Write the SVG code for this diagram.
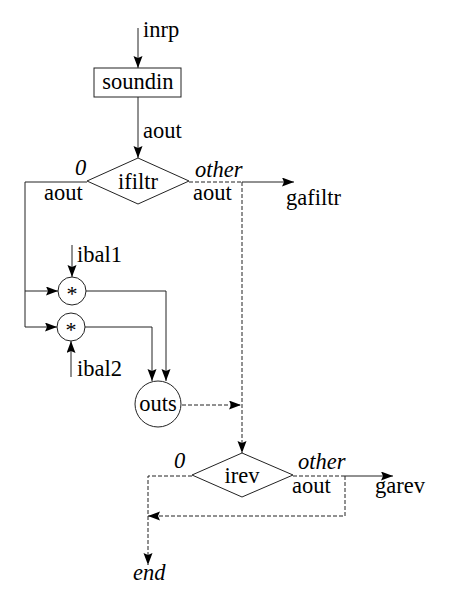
<svg xmlns="http://www.w3.org/2000/svg" width="450" height="607" viewBox="0 0 450 607">
<defs>
<marker id="ah" markerUnits="userSpaceOnUse" markerWidth="13" markerHeight="10" refX="12" refY="4.5" orient="auto">
<path d="M0,0 L12,4.5 L0,9 L2,4.5 z" fill="#000"/>
</marker>
</defs>
<style>
text{font-size:22.5px;fill:#000}
.it{font-style:italic}
.m{text-anchor:middle}
.ln{fill:none;stroke:#222;stroke-width:1}
.d{stroke-dasharray:4,2}
.a{marker-end:url(#ah)}
.sh{fill:#fff;stroke:#222;stroke-width:1}
</style>
<rect width="450" height="607" fill="#fff"/>
<g id="connectors">
<line class="ln a" x1="138" y1="28" x2="138" y2="68"/>
<line class="ln a" x1="138" y1="97" x2="138" y2="158"/>
<polyline class="ln a" points="87,182 25,182 25,327 57,327"/>
<polyline class="ln a" points="25,291 58,291"/>
<line class="ln d" x1="189" y1="182" x2="242" y2="182"/>
<line class="ln a" x1="242" y1="182" x2="294" y2="182"/>
<line class="ln d a" x1="242" y1="182" x2="242" y2="453"/>
<line class="ln a" x1="72" y1="245" x2="72" y2="277"/>
<line class="ln a" x1="71" y1="377" x2="71" y2="341"/>
<polyline class="ln a" points="86,291 166,291 166,381"/>
<polyline class="ln a" points="85,327 152,327 152,381"/>
<line class="ln d a" x1="182" y1="405" x2="241" y2="405"/>
<polyline class="ln d a" points="192,476 148,476 148,565"/>
<line class="ln d" x1="293" y1="476" x2="345" y2="476"/>
<line class="ln a" x1="345" y1="476" x2="393" y2="476"/>
<polyline class="ln d a" points="345,476 345,516 148,516"/>
</g>
<g font-family="'Liberation Serif', 'Times New Roman', 'DejaVu Serif', serif">
<g id="inrp"><text x="143" y="37">inrp</text></g>
<g id="soundin">
<rect class="sh" x="94" y="68" width="87" height="29"/>
<text class="m" x="138" y="89">soundin</text>
</g>
<text x="143" y="138">aout</text>
<g id="ifiltr">
<polygon class="sh" points="87,181 138,158 189,181 138,204"/>
<text class="m" x="138" y="189">ifiltr</text>
</g>
<text class="it" x="75" y="175">0</text>
<text x="44" y="200">aout</text>
<text class="it" x="195" y="177">other</text>
<text x="193" y="200">aout</text>
<g id="gafiltr"><text x="286" y="205">gafiltr</text></g>
<g id="ibal1"><text x="77" y="262">ibal1</text></g>
<g id="mul1">
<circle class="sh" cx="72" cy="291" r="14"/>
<text class="m" x="72" y="301" style="font-size:22px">*</text>
</g>
<g id="mul2">
<circle class="sh" cx="71" cy="327" r="14"/>
<text class="m" x="71" y="337" style="font-size:22px">*</text>
</g>
<g id="ibal2"><text x="77" y="376">ibal2</text></g>
<g id="outs">
<circle class="sh" cx="158" cy="404" r="23"/>
<text class="m" x="158" y="411">outs</text>
</g>
<g id="irev">
<polygon class="sh" points="192,475 242,453 293,475 242,497"/>
<text class="m" x="242" y="483">irev</text>
</g>
<text class="it" x="174" y="468">0</text>
<text class="it" x="298" y="469">other</text>
<text x="292" y="493">aout</text>
<g id="garev"><text x="375" y="493">garev</text></g>
<g id="end"><text class="it" x="133" y="580">end</text></g>
</g>
</svg>
